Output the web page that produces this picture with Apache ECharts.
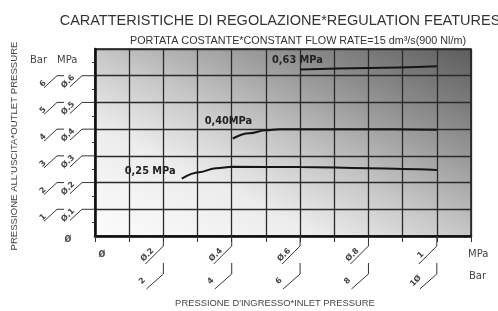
<!DOCTYPE html>
<html lang="it">
<head>
<meta charset="UTF-8">
<title>Caratteristiche di regolazione</title>
<script src="https://cdn.jsdelivr.net/npm/echarts@6/dist/echarts.min.js"></script>
<style>
  html, body { margin: 0; padding: 0; background: #fff; }
  #main { width: 498px; height: 311px; }
</style>
</head>
<body>
<div id="main"></div>
<script>
// pressione in uscita (MPa) in funzione della pressione in ingresso (MPa)
const curve025 = [[0.254, 0.215], [0.305, 0.239], [0.354, 0.254], [0.403, 0.259], [0.6, 0.258], [0.8, 0.254], [0.9, 0.251], [1.0, 0.247]];
const curve040 = [[0.403, 0.365], [0.452, 0.385], [0.5, 0.396], [0.54, 0.4], [0.8, 0.4], [1.0, 0.398]];
const curve063 = [[0.6, 0.623], [0.8, 0.629], [1.0, 0.635]];
const curveNames = ['0,25 MPa', '0,40MPa', '0,63 MPa'];

// etichette degli assi (MPa e Bar)
const xTicks = [0, 0.2, 0.4, 0.6, 0.8, 1];
const xLabelsMPa = ['Ø', 'Ø.2', 'Ø.4', 'Ø.6', 'Ø.8', '1'];
const xLabelsBar = ['', '2', '4', '6', '8', '1Ø'];
const yTicks = [0, 0.1, 0.2, 0.3, 0.4, 0.5, 0.6];
const yLabelsMPa = ['Ø', 'Ø.1', 'Ø.2', 'Ø.3', 'Ø.4', 'Ø.5', 'Ø.6'];
const yLabelsBar = ['', '1', '2', '3', '4', '5', '6'];

const ink = '#333';
const lblFont = { fontFamily: 'DejaVu Sans', fontSize: 8, fontWeight: 'bold', fill: '#444' };

function leader(points) {
    return { type: 'polyline', shape: { points: points }, style: { stroke: ink, lineWidth: 1, fill: null } };
}
function slanted(text, x, y) {
    return {
        type: 'text', x: x, y: y, rotation: Math.PI / 4,
        style: Object.assign({ text: text, align: 'center', verticalAlign: 'middle' }, lblFont)
    };
}

// etichette asse x: due righe con tratti obliqui
function renderXLabel(params, api) {
    const i = api.value(1);
    const p = api.coord([api.value(0), 0]);
    const x = p[0], y = p[1];
    if (i === 0) {
        return { type: 'group', children: [
            { type: 'text', x: x + 7, y: y + 19, style: Object.assign({ text: xLabelsMPa[i], align: 'center', verticalAlign: 'middle' }, lblFont) }
        ] };
    }
    return { type: 'group', children: [
        leader([[x, y], [x, y + 10], [x - 18, y + 28]]),
        slanted(xLabelsMPa[i], x - 16, y + 19),
        leader([[x, y + 27], [x, y + 38], [x - 17, y + 53]]),
        slanted(xLabelsBar[i], x - 21, y + 45)
    ] };
}

// etichette asse y: colonne Bar e MPa
function renderYLabel(params, api) {
    const i = api.value(1);
    const p = api.coord([0, api.value(0)]);
    const x = p[0], y = p[1];
    if (i === 0) {
        return { type: 'group', children: [
            { type: 'text', x: x - 27, y: y + 4, style: Object.assign({ text: yLabelsMPa[i], align: 'center', verticalAlign: 'middle' }, lblFont) }
        ] };
    }
    return { type: 'group', children: [
        leader([[x - 51, y + 12], [x - 38, y], [x - 31, y]]),
        slanted(yLabelsBar[i], x - 52, y + 8),
        leader([[x - 25, y + 11], [x - 13, y], [x, y]]),
        slanted(yLabelsMPa[i], x - 27, y + 6)
    ] };
}

function curveSeries(data, name, labelPos) {
    return {
        name: name,
        type: 'line',
        data: data,
        smooth: 0.4,
        smoothMonotone: 'x',
        symbol: 'circle',
        symbolSize: 0.1,
        lineStyle: { color: '#151515', width: 2 },
        itemStyle: { color: '#151515' },
        label: {
            show: true,
            position: labelPos,
            fontFamily: 'DejaVu Sans', fontSize: 9.8, fontWeight: 'bold', color: '#222',
            formatter: p => p.dataIndex === 0 ? name : ''
        },
        z: 5
    };
}

let myChart = echarts.init(document.getElementById('main'));
let option = {
    animation: false,
    title: [
        {
            text: 'CARATTERISTICHE DI REGOLAZIONE*REGULATION FEATURES',
            left: 275, top: 8, textAlign: 'center',
            textStyle: { fontFamily: 'Liberation Sans', fontSize: 14.5, fontWeight: 'normal', color: '#333' }
        },
        {
            text: 'PORTATA COSTANTE*CONSTANT FLOW RATE=15 dm³/s(900 Nl/m)',
            left: 293, top: 31, textAlign: 'center',
            textStyle: { fontFamily: 'Liberation Sans', fontSize: 10.8, fontWeight: 'normal', color: '#333' }
        }
    ],
    graphic: [
        { type: 'text', left: 30, top: 55, style: { text: 'Bar', fontFamily: 'DejaVu Sans', fontSize: 10, fill: '#444' } },
        { type: 'text', left: 57, top: 55, style: { text: 'MPa', fontFamily: 'DejaVu Sans', fontSize: 10, fill: '#444' } },
        { type: 'text', left: 468, top: 249, style: { text: 'MPa', fontFamily: 'DejaVu Sans', fontSize: 10, fill: '#444' } },
        { type: 'text', left: 469, top: 271, style: { text: 'Bar', fontFamily: 'DejaVu Sans', fontSize: 10, fill: '#444' } },
        { type: 'text', x: 275, y: 303,
          style: { text: "PRESSIONE D'INGRESSO*INLET PRESSURE", fontFamily: 'Liberation Sans', fontSize: 9.4, fill: '#444', align: 'center', verticalAlign: 'middle' } },
        { type: 'text', x: 14, y: 146, rotation: Math.PI / 2,
          style: { text: "PRESSIONE ALL'USCITA*OUTLET PRESSURE", fontFamily: 'Liberation Sans', fontSize: 9.6, fill: '#444', align: 'center', verticalAlign: 'middle' } }
    ],
    grid: {
        left: 95, top: 49, width: 376, height: 187,
        show: true,
        borderColor: '#1a1a1a', borderWidth: 1.5,
        // sfumatura dall'angolo in basso a sinistra (chiaro) a quello in alto a destra (scuro)
        backgroundColor: {
            type: 'linear', x: 0, y: 1, x2: 0.397, y2: -0.603,
            colorStops: [
                { offset: 0, color: '#fcfcfc' },
                { offset: 0.3, color: '#ececec' },
                { offset: 0.5, color: '#c6c6c6' },
                { offset: 0.75, color: '#8e8e8e' },
                { offset: 1, color: '#5c5c5c' }
            ]
        }
    },
    xAxis: {
        type: 'value', min: 0, max: 1.1, interval: 0.1,
        axisLine: { show: true, onZero: false, lineStyle: { color: '#111', width: 2.5 } },
        axisTick: { show: true, length: 6, lineStyle: { color: ink, width: 1 } },
        axisLabel: { show: false },
        splitLine: { show: true, lineStyle: { color: '#2a2a2a', width: 1.3 } }
    },
    yAxis: {
        type: 'value', min: 0, max: 0.7, interval: 0.1,
        axisLine: { show: true, onZero: false, lineStyle: { color: '#111', width: 2.5 } },
        axisTick: { show: false },
        minorTick: { show: true, splitNumber: 2, length: 3, lineStyle: { color: ink, width: 1 } },
        axisLabel: { show: false },
        splitLine: { show: true, lineStyle: { color: '#2a2a2a', width: 1.3 } }
    },
    series: [
        curveSeries(curve025, curveNames[0], [-57, -12]),
        curveSeries(curve040, curveNames[1], [-28, -22]),
        curveSeries(curve063, curveNames[2], [-28, -14]),
        {
            type: 'custom', renderItem: renderXLabel, silent: true, clip: false,
            data: xTicks.map((v, i) => [v, i]), encode: { x: 0 }
        },
        {
            type: 'custom', renderItem: renderYLabel, silent: true, clip: false,
            data: yTicks.map((v, i) => [v, i]), encode: { y: 0 }
        }
    ]
};
myChart.setOption(option);
</script>
</body>
</html>
